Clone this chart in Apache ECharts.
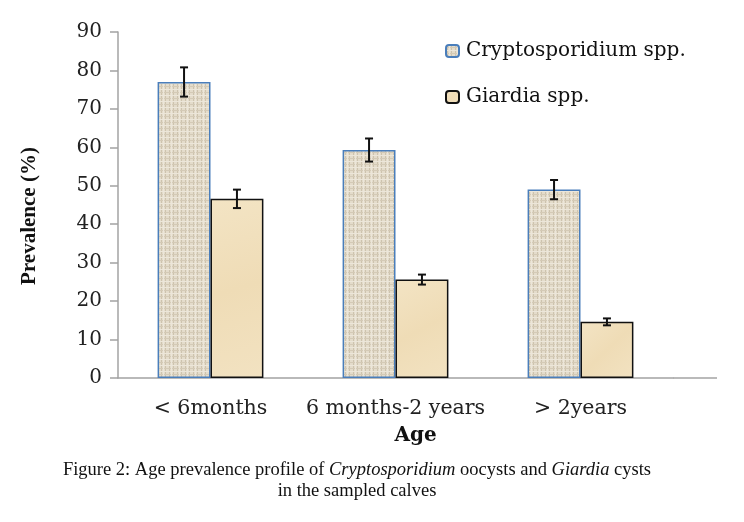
<!DOCTYPE html>
<html>
<head>
<meta charset="utf-8">
<script src="https://cdn.jsdelivr.net/npm/echarts@6/dist/echarts.min.js"></script>
<style>
  html, body { margin: 0; padding: 0; background: #fff; }
  #chart { width: 744px; height: 522px; }
</style>
</head>
<body>
<div id="chart"></div>
<script>
// data
var ageGroups = ['< 6months', '6 months-2 years', '> 2years'];
var cryptoPrev = [77.0, 59.3, 49.0];
var cryptoErr = [3.8, 3.0, 2.5];
var giardiaPrev = [46.6, 25.6, 14.6];
var giardiaErr = [2.4, 1.3, 0.9];
var yTicks = { min: 0, max: 90, interval: 10 };

var BAR_FRAC = 0.286; // bar width as share of the category band

// small canvas texture, mimicking the Excel burlap fill
function makeTexture() {
  var c = document.createElement('canvas');
  c.width = 8; c.height = 6;
  var g = c.getContext('2d');
  g.fillStyle = '#e4dccb'; g.fillRect(0, 0, 8, 6);
  g.fillStyle = '#cdc3ae'; g.fillRect(1, 0, 1, 6); g.fillRect(5, 0, 1, 6);
  g.fillStyle = '#d4cab6'; g.fillRect(0, 2, 8, 1);
  g.fillStyle = '#ece6d9'; g.fillRect(3, 0, 1, 6); g.fillRect(0, 5, 8, 1);
  return c;
}
var cryptoFill = { image: makeTexture(), repeat: 'repeat' };
var giardiaFill = {
  type: 'linear', x: 0, y: 0, x2: 1, y2: 1,
  colorStops: [{ offset: 0, color: '#f3e4c4' }, { offset: 0.5, color: '#efdcb6' }, { offset: 1, color: '#f2e2c1' }]
};

function errRows(vals, errs) {
  var out = [];
  for (var i = 0; i < vals.length; i++) out.push([i, vals[i], errs[i]]);
  return out;
}

function errorBar(shift) {
  return function (params, api) {
    var c = api.value(0);
    var hi = api.coord([c, api.value(1) + api.value(2)]);
    var lo = api.coord([c, api.value(1) - api.value(2)]);
    var band = api.size([1, 0])[0];
    var x = hi[0] + shift * band * BAR_FRAC;
    var cap = 4;
    var st = { stroke: '#111', lineWidth: 2 };
    return {
      type: 'group',
      children: [
        { type: 'line', shape: { x1: x, y1: hi[1], x2: x, y2: lo[1] }, style: st },
        { type: 'line', shape: { x1: x - cap, y1: hi[1], x2: x + cap, y2: hi[1] }, style: st },
        { type: 'line', shape: { x1: x - cap, y1: lo[1], x2: x + cap, y2: lo[1] }, style: st }
      ]
    };
  };
}

var chart = echarts.init(document.getElementById('chart'));
var option = {
  animation: false,
  grid: { left: 118, top: 32, right: 71, bottom: 144, containLabel: false },
  legend: {
    orient: 'vertical',
    left: 440, top: 36,
    itemWidth: 13, itemHeight: 12,
    itemGap: 26,
    data: ['Cryptosporidium spp.', 'Giardia spp.'],
    textStyle: { fontFamily: 'DejaVu Serif', fontSize: 20, color: '#111', padding: [0, 0, 0, 2] }
  },
  xAxis: {
    type: 'category',
    data: ageGroups,
    name: 'Age',
    nameLocation: 'middle',
    nameGap: 48,
    nameTextStyle: { fontFamily: 'DejaVu Serif', fontWeight: 'bold', fontSize: 20, color: '#111', padding: [0, 0, 0, 40] },
    axisLine: { lineStyle: { color: '#a3a3a3', width: 1.5 } },
    axisTick: { length: 8, lineStyle: { color: '#a3a3a3', width: 1.5 } },
    axisLabel: { interval: 0, hideOverlap: false, fontFamily: 'DejaVu Serif', fontSize: 20.5, color: '#222', margin: 20 }
  },
  yAxis: {
    type: 'value',
    min: yTicks.min, max: yTicks.max, interval: yTicks.interval,
    name: 'Prevalence (%)',
    nameLocation: 'middle',
    nameGap: 78,
    nameTextStyle: { fontFamily: 'Liberation Serif', fontWeight: 'bold', fontSize: 21, color: '#111', padding: [0, 22, 0, 0] },
    axisLine: { show: true, lineStyle: { color: '#a3a3a3', width: 1.5 } },
    axisTick: { show: true, length: 8, lineStyle: { color: '#a3a3a3', width: 1.5 } },
    splitLine: { show: false },
    axisLabel: { fontFamily: 'DejaVu Serif', fontSize: 20, color: '#222', margin: 16 }
  },
  graphic: [
    // the Excel axis line runs on past the last tick
    { type: 'line', shape: { x1: 673, y1: 378, x2: 717, y2: 378 }, style: { stroke: '#a3a3a3', lineWidth: 1.5 } },
    {
      type: 'text', x: 357, y: 460,
      style: {
        text: 'Figure 2: Age prevalence profile of {i|Cryptosporidium} oocysts and {i|Giardia} cysts\nin the sampled calves',
        font: '18.5px "Liberation Serif"',
        fill: '#111',
        align: 'center',
        verticalAlign: 'top',
        lineHeight: 21,
        rich: { i: { fontStyle: 'italic', fontFamily: 'Liberation Serif', fontSize: 18.5, fill: '#111' } }
      }
    }
  ],
  series: [
    {
      name: 'Cryptosporidium spp.',
      type: 'bar',
      barWidth: (BAR_FRAC * 100) + '%',
      barGap: '0%',
      data: cryptoPrev,
      itemStyle: { color: cryptoFill, borderColor: '#4a7ebb', borderWidth: 1.5 }
    },
    {
      name: 'Giardia spp.',
      type: 'bar',
      barWidth: (BAR_FRAC * 100) + '%',
      barGap: '0%',
      data: giardiaPrev,
      itemStyle: { color: giardiaFill, borderColor: '#111', borderWidth: 1.5 }
    },
    {
      type: 'custom', name: 'crypto err', z: 5,
      renderItem: errorBar(-0.5),
      encode: { x: 0, y: [1] },
      data: errRows(cryptoPrev, cryptoErr)
    },
    {
      type: 'custom', name: 'giardia err', z: 5,
      renderItem: errorBar(0.5),
      encode: { x: 0, y: [1] },
      data: errRows(giardiaPrev, giardiaErr)
    }
  ]
};
chart.setOption(option);
</script>
</body>
</html>
